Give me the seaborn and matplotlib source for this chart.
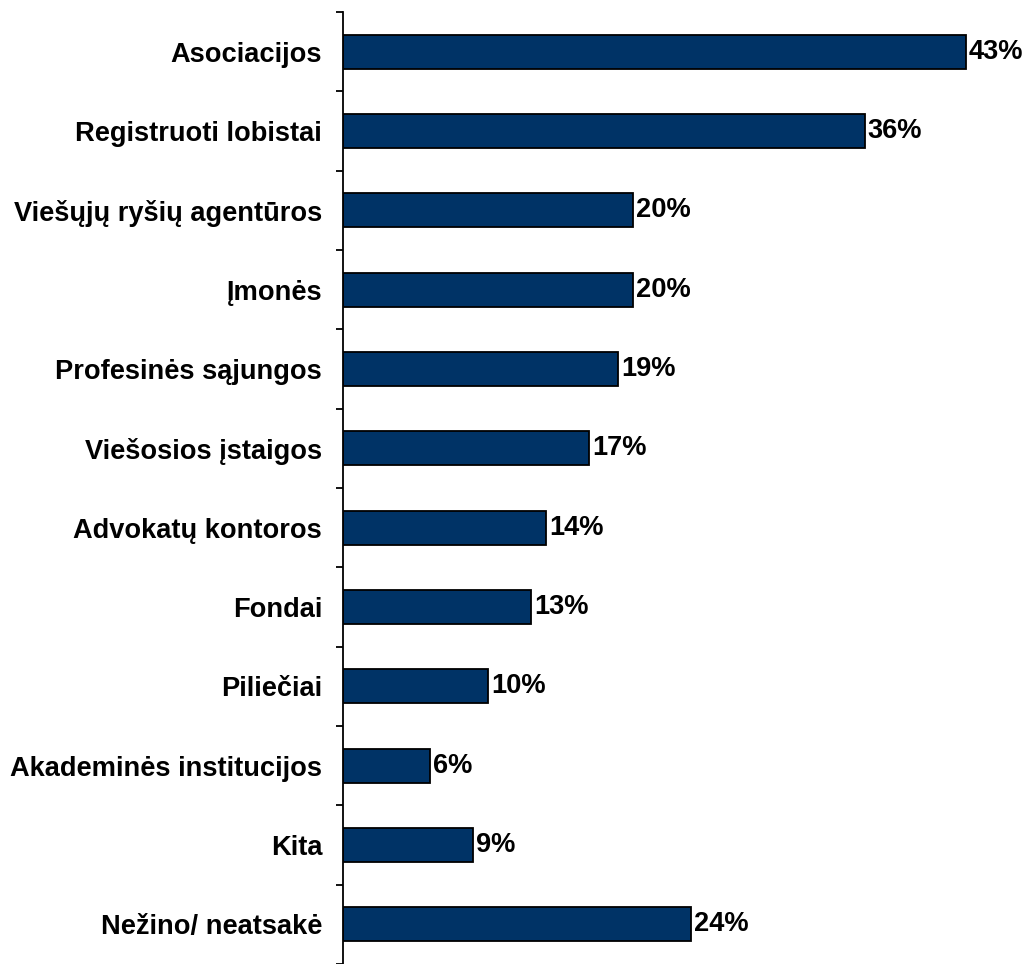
import numpy as np
import pandas as pd
import seaborn as sns
import matplotlib.pyplot as plt

# Duomenys
kategorijos = ['Asociacijos', 'Registruoti lobistai', 'Viešųjų ryšių agentūros', 'Įmonės',
               'Profesinės sąjungos', 'Viešosios įstaigos', 'Advokatų kontoros', 'Fondai',
               'Piliečiai', 'Akademinės institucijos', 'Kita', 'Nežino/ neatsakė']
reiksmes = [43, 36, 20, 20, 19, 17, 14, 13, 10, 6, 9, 24]

df = pd.DataFrame({'kategorija': kategorijos, 'proc': reiksmes})

sns.set_style('white')
plt.rcParams['font.family'] = ['Liberation Sans', 'DejaVu Sans']
plt.rcParams['text.color'] = 'black'
plt.rcParams['ytick.labelcolor'] = 'black'

fig = plt.figure(figsize=(10.27, 9.64), dpi=100)
ax = fig.add_axes([0.334, 0.0, 0.635, 0.9876])

sns.barplot(data=df, y='kategorija', x='proc', orient='h', color='#003366',
            edgecolor='black', linewidth=1.3, width=0.43, saturation=1, ax=ax)

# Reikšmių etiketės
for i, v in enumerate(reiksmes):
    ax.text(v + 0.2, i, f'{v}%', va='center', ha='left', fontsize=19.6,
            fontweight='bold', color='black')

ax.set_xlim(0, 45)
ax.set_ylim(len(kategorijos) - 0.5, -0.5)
ax.set_xlabel('')
ax.set_ylabel('')
ax.set_xticks([])

for s in ['top', 'right', 'bottom']:
    ax.spines[s].set_visible(False)
ax.spines['left'].set_color('black')
ax.spines['left'].set_linewidth(1.3)

ax.tick_params(axis='y', which='major', length=0, pad=15, labelsize=19.6, labelcolor='black')
ax.set_yticks(np.arange(-0.5, len(kategorijos), 1.0), minor=True)
ax.tick_params(axis='y', which='minor', length=5, width=1.3, color='black', direction='out', left=True)
for lbl in ax.get_yticklabels():
    lbl.set_fontweight('bold')

plt.savefig('out.png', dpi=100)
plt.close()
